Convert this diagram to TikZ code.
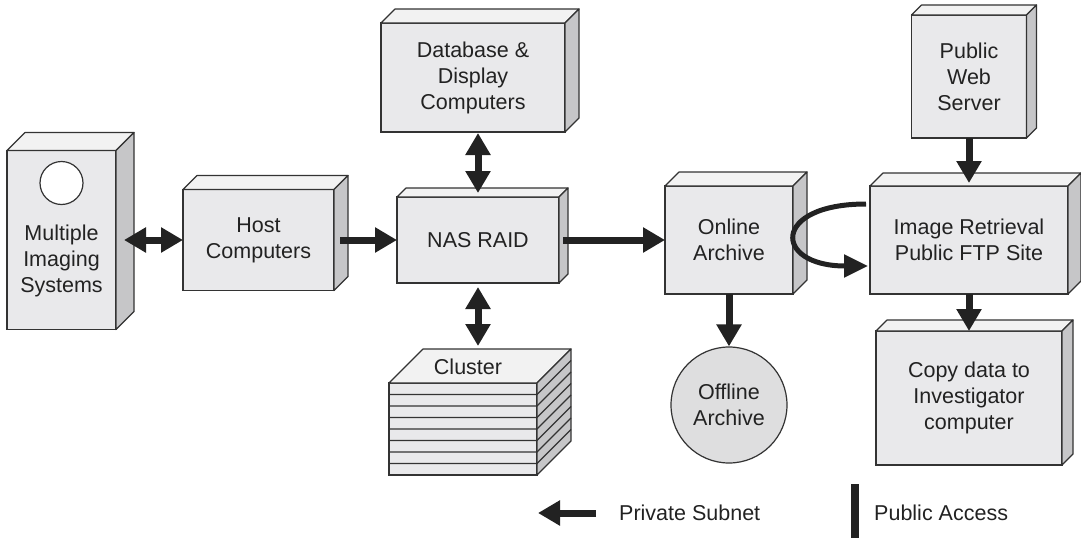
\documentclass[tikz,border=0pt]{standalone}
\usepackage{fontspec}
\setmainfont{Liberation Sans}
\usetikzlibrary{arrows.meta,calc,positioning}
\definecolor{facegray}{HTML}{E9E9EB}
\definecolor{topgray}{HTML}{F2F2F2}
\definecolor{sidegray}{HTML}{C6C6C8}
\definecolor{discgray}{HTML}{DEDEDF}
\definecolor{edgegray}{HTML}{333333}
\definecolor{inkgray}{HTML}{222222}

\begin{document}
\begin{tikzpicture}[x=1pt,y=1pt]
\tikzstyle{box}=[rectangle, draw=edgegray, fill=facegray, line width=1.2pt,
	inner sep=0pt, outer sep=0pt, align=center, text=inkgray,
	font=\fontsize{21.5}{26}\selectfont
]
\tikzstyle{txt}=[inner sep=0pt, align=center, text=inkgray,
	font=\fontsize{21.5}{26}\selectfont]
\tikzstyle{topface}=[draw=edgegray, fill=topgray, line width=1.2pt, line join=round]
\tikzstyle{sideface}=[draw=edgegray, fill=sidegray, line width=1.2pt, line join=round]
\tikzstyle{link}=[draw=inkgray, line width=7pt, -{Triangle[length=22pt,width=24pt]}]
\tikzstyle{both}=[link, {Triangle[length=22pt,width=24pt]}-{Triangle[length=22pt,width=24pt]}]

\useasboundingbox (0,0) rectangle (1081,-538);

% main row
\node[box, minimum width=109pt, minimum height=179pt] (mis) at (61.5,-240) {};
\node[right of = mis, box, node distance=197pt, minimum width=151pt, minimum height=101pt] (host) {Host\\Computers};
\node[right of = host, box, node distance=219.5pt, minimum width=162pt, minimum height=86pt] (nas) {NAS RAID};
\node[right of = nas, box, node distance=251pt, minimum width=128pt, minimum height=108pt] (online) {Online\\Archive};
\node[right of = online, box, node distance=240pt, minimum width=198pt, minimum height=108pt] (ret) {Image Retrieval\\Public FTP Site};
% above and below
\node[above of = nas, box, node distance=162.5pt, xshift=-5pt, minimum width=184pt, minimum height=109pt] (db) {Database \&\\Display\\Computers};
\node[above of = ret, box, node distance=163.5pt, minimum width=115pt, minimum height=123pt] (web) {Public\\Web\\Server};
\node[below of = ret, box, node distance=158pt, minimum width=186pt, minimum height=134pt] (copy) {Copy data to\\Investigator\\computer};
\node[below of = online, circle, draw=edgegray, fill=discgray, line width=1.2pt, txt, node distance=165pt, minimum size=116pt] (offline) {Offline\\Archive};
\node[below of = nas, box, node distance=189pt, xshift=-15pt, minimum width=148pt, minimum height=92pt] (cluster) {};

% depth of the boxes
\foreach \n/\d in {mis/18,host/14,nas/9,db/14,online/14,ret/13,web/10,copy/11}{
	\path[topface] (\n.north west) -- ++(\d,\d) -- ($(\n.north east)+(\d,\d)$) -- (\n.north east) -- cycle;
	\path[sideface] (\n.north east) -- ++(\d,\d) -- ($(\n.south east)+(\d,\d)$) -- (\n.south east) -- cycle;
}

% imaging system lens and label
\node[circle, draw=edgegray, fill=white, line width=1.2pt, minimum size=43pt] (lens) at ([yshift=57pt]mis.center) {};
\node[txt] (mislbl) at ([yshift=-21pt]mis.center) {Multiple\\Imaging\\Systems};

% cluster stack
\path[topface] (cluster.north west) -- ++(34,34) -- ($(cluster.north east)+(34,34)$) -- (cluster.north east) -- cycle;
\path[sideface] (cluster.north east) -- ++(34,34) -- ($(cluster.south east)+(34,34)$) -- (cluster.south east) -- cycle;
\foreach \i in {1,...,7}{
	\draw[edgegray, line width=1.2pt] ($(cluster.north west)!\i/8!(cluster.south west)$) -- ($(cluster.north east)!\i/8!(cluster.south east)$) -- ++(34,34);
}
\node[txt] (clusterlbl) at ($(cluster.north)+(5,16)$) {Cluster};
\coordinate (ctop) at ($(cluster.north)+(0,34)$);

% connections
\draw[both] ([xshift=8pt]mis.east) -- (host.west);
\draw[link] ([xshift=6pt]host.east) -- (nas.west);
\draw[both] ([yshift=-1pt]db.south -| nas.north) -- ([yshift=4pt]nas.north);
\draw[both] ([yshift=-4pt]nas.south) -- ([yshift=3pt]nas.south |- ctop);
\draw[link] ([xshift=4pt]nas.east) -- (nas.east -| online.west);
\draw[link] (online.south) -- (offline.north);
\draw[link] (web.south) -- ([yshift=3pt]ret.north);
\draw[link] (ret.south) -- (copy.north);
\draw[inkgray, line width=5pt, -{Triangle[length=24pt,width=22pt]}]
	([xshift=-4pt,yshift=36pt]ret.west) .. controls +(-95,0) and +(-95,0) .. ([xshift=-2pt,yshift=-26pt]ret.west);

% legend
\node[txt, anchor=west] (priv) at (619,-513) {Private Subnet};
\node[txt, anchor=west] (pub) at (874,-513) {Public Access};
\coordinate (privtail) at ([xshift=-23pt]priv.west);
\coordinate (privtip) at ([xshift=-81pt]priv.west);
\coordinate (bartop) at ([xshift=-19pt,yshift=29pt]pub.west);
\coordinate (barbot) at ([xshift=-19pt,yshift=-25pt]pub.west);
\draw[link] (privtail) -- (privtip);
\draw[inkgray, line width=8pt] (bartop) -- (barbot);

\end{tikzpicture}
\end{document}
